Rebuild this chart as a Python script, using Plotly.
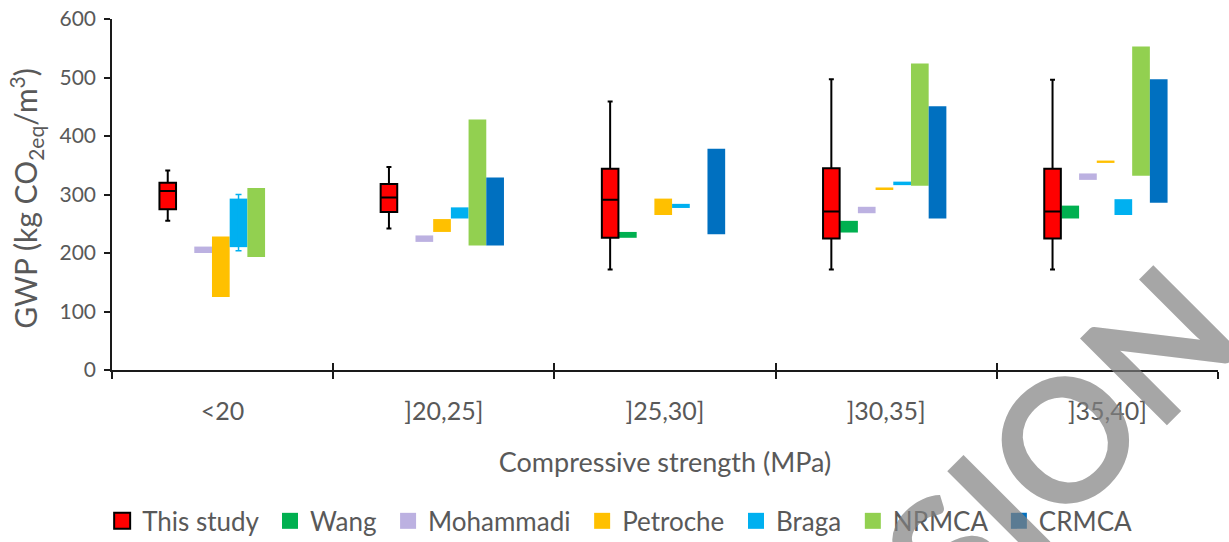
import plotly.graph_objects as go

categories = ["<20", "]20,25]", "]25,30]", "]30,35]", "]35,40]"]

# "This study" box statistics (kg CO2eq/m3)
this_min = [255, 242, 172, 172, 172]
this_q1 = [275, 270, 226, 225, 225]
this_median = [306, 295, 291, 271, 271]
this_q3 = [320, 318, 344, 345, 344]
this_max = [341, 347, 459, 497, 496]

# literature ranges (low / high)
wang_low = [None, None, 226, 235, 259]
wang_high = [None, None, 236, 255, 281]
moh_low = [200, 219, None, 268, 325]
moh_high = [211, 230, None, 279, 336]
pet_low = [125, 236, 265, 309, 354]
pet_high = [228, 258, 293, 312, 358]
braga_low = [210, 259, 277, 316, 265]
braga_high = [293, 278, 284, 322, 292]
nrmca_low = [193, 213, None, 315, 332]
nrmca_high = [311, 428, None, 524, 553]
crmca_low = [None, 213, 232, 259, 286]
crmca_high = [None, 329, 378, 451, 497]
braga_whisk_low = [204]
braga_whisk_high = [300]

series = [
    ("Wang", wang_low, wang_high, "#00B050"),
    ("Mohammadi", moh_low, moh_high, "#BCB1E1"),
    ("Petroche", pet_low, pet_high, "#FFC000"),
    ("Braga", braga_low, braga_high, "#00B0F0"),
    ("NRMCA", nrmca_low, nrmca_high, "#92D050"),
    ("CRMCA", crmca_low, crmca_high, "#0070C0"),
]

SLOT = 0.08
def off(i):
    return (i - 3) * SLOT - 0.008

FONT = "Lato, 'Open Sans', sans-serif"
GRAY = "#595959"
AX = "#1a1a1a"

fig = go.Figure()

fig.add_trace(go.Box(
    name="This study",
    x=[k + off(0) for k in range(len(categories))],
    q1=this_q1, median=this_median, q3=this_q3,
    lowerfence=this_min, upperfence=this_max,
    width=0.075, whiskerwidth=0.3,
    fillcolor="#FF0000", line=dict(color="black", width=2),
    boxpoints=False, showlegend=False,
))

for i, (name, lo, hi, col) in enumerate(series, start=1):
    xs, bases, ys = [], [], []
    for k in range(len(categories)):
        if lo[k] is None:
            continue
        xs.append(k + off(i))
        bases.append(lo[k])
        ys.append(hi[k] - lo[k])
    fig.add_trace(go.Bar(
        name=name, x=xs, y=ys, base=bases, width=0.08,
        marker=dict(color=col, line=dict(width=0)), showlegend=False,
    ))

# Braga whisker in the first class
fig.add_trace(go.Scatter(
    x=[0 + off(4)], y=braga_whisk_high, mode="markers",
    marker=dict(size=1, color="rgba(0,0,0,0)"),
    error_y=dict(type="data", symmetric=False, array=[0],
                 arrayminus=[braga_whisk_high[0] - braga_whisk_low[0]],
                 color="#00B0F0", thickness=1.5, width=3),
    showlegend=False, hoverinfo="skip",
))

# legend entries (square swatches)
legend_items = [("This study", "#FF0000", "black", 2)] + [(n, c, c, 0) for n, _, _, c in series]
for j, (name, col, lcol, lw) in enumerate(legend_items):
    label = name if j == len(legend_items) - 1 else name + "\u00a0"
    fig.add_trace(go.Scatter(
        name=label, x=[None], y=[None], mode="markers",
        marker=dict(symbol="square", size=16, color=col, line=dict(color=lcol, width=lw)),
        showlegend=True, hoverinfo="skip",
    ))

bounds = [k - 0.5 for k in range(len(categories) + 1)]

fig.update_layout(
    width=1229, height=542,
    margin=dict(l=112, r=11, t=19, b=172, autoexpand=False),
    paper_bgcolor="white", plot_bgcolor="white",
    font=dict(family=FONT, color=GRAY),
    barmode="overlay",
    showlegend=True,
    legend=dict(orientation="h", x=0.459, y=-0.43, xanchor="center", yanchor="middle",
                font=dict(size=26, color=GRAY), traceorder="normal", itemwidth=30,
                itemsizing="trace"),
    xaxis=dict(
        range=[-0.5, 4.5], tickmode="array", tickvals=list(range(len(categories))),
        ticktext=categories, ticks="", showgrid=False, zeroline=False, automargin=False,
        showline=True, linecolor=AX, linewidth=1.5,
        tickfont=dict(size=25, color=GRAY), ticklabelstandoff=18,
        minor=dict(tickmode="array", tickvals=bounds, ticks="outside", ticklen=7,
                   tickcolor=AX, tickwidth=1.5, showgrid=False),
        title=dict(text="Compressive strength (MPa)", font=dict(size=27, color=GRAY), standoff=29),
    ),
    xaxis2=dict(
        overlaying="x", anchor="y", side="bottom", range=[-0.5, 4.5],
        tickmode="array", tickvals=bounds, ticks="inside", ticklen=7,
        tickcolor=AX, tickwidth=1.5, showticklabels=False, showgrid=False,
        zeroline=False, showline=False, automargin=False,
    ),
    yaxis=dict(
        range=[0, 600], tickmode="array", tickvals=[0, 100, 200, 300, 400, 500, 600],
        ticks="outside", ticklen=6, tickcolor=AX, tickwidth=1.5, automargin=False,
        showline=True, linecolor=AX, linewidth=1.5, showgrid=False, zeroline=False,
        tickfont=dict(size=21, color=GRAY), ticklabelstandoff=4,
    ),
    annotations=[
        dict(
            text="GWP (kg CO<sub>2eq</sub>/m<sup>3</sup>)", xref="paper", yref="paper",
            x=-0.078, y=0.49, xanchor="center", yanchor="middle", showarrow=False,
            textangle=-90, font=dict(family=FONT, size=30, color=GRAY),
        ),
        dict(
            text="REVISION", xref="paper", yref="paper", x=0.735, y=-0.581,
            xanchor="center", yanchor="middle", showarrow=False, textangle=-45,
            font=dict(family=FONT, size=170, color="rgba(128,128,128,0.7)", weight="bold"),
        ),
    ],
)

# dummy trace so the overlay axis is drawn
fig.add_trace(go.Scatter(x=[0], y=[0], xaxis="x2", mode="markers",
                         marker=dict(size=1, color="rgba(0,0,0,0)"),
                         showlegend=False, hoverinfo="skip"))

fig.write_html("out.html")
